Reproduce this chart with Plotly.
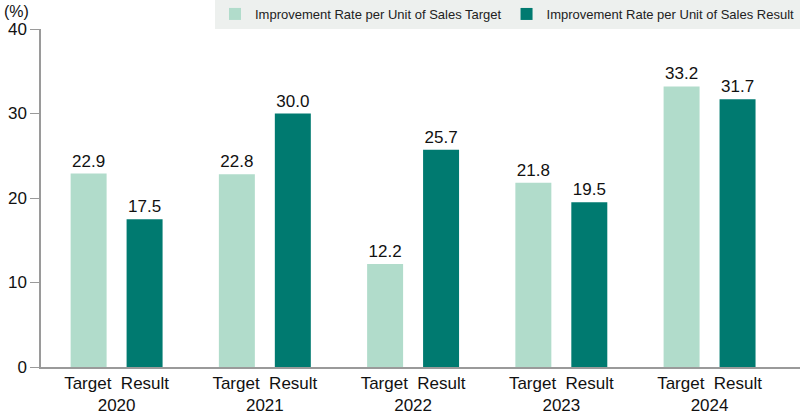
import plotly.graph_objects as go

years = ['2020', '2021', '2022', '2023', '2024']
target = [22.9, 22.8, 12.2, 21.8, 33.2]
result = [17.5, 30.0, 25.7, 19.5, 31.7]
tick_labels = ['Target  Result<br>' + y for y in years]

light_green = '#b1dccb'
dark_green = '#007a70'
axis_gray = '#9a9a9a'
base_font = 'Liberation Sans, Arial, sans-serif'

fig = go.Figure()

fig.add_trace(go.Bar(
    x=years, y=target,
    name='Improvement Rate per Unit of Sales Target',
    marker=dict(color=light_green, line=dict(width=0)),
    text=[f'{v:.1f}' for v in target],
    textposition='outside',
    textfont=dict(size=17, color='#111111', family=base_font),
    cliponaxis=False,
))

fig.add_trace(go.Bar(
    x=years, y=result,
    name='Improvement Rate per Unit of Sales Result',
    marker=dict(color=dark_green, line=dict(width=0)),
    text=[f'{v:.1f}' for v in result],
    textposition='outside',
    textfont=dict(size=17, color='#111111', family=base_font),
    cliponaxis=False,
))

fig.update_layout(
    width=800, height=416,
    margin=dict(l=41, r=0, t=29, b=49, autoexpand=False),
    paper_bgcolor='white',
    plot_bgcolor='white',
    barmode='group',
    bargap=0.245,
    bargroupgap=0.357,
    font=dict(family=base_font, size=17, color='#111111'),
    legend=dict(
        orientation='h',
        x=1, xanchor='right',
        y=1, yanchor='bottom',
        bgcolor='#edf0ee',
        font=dict(family=base_font, size=13, color='#222222'),
        itemwidth=30,
        tracegroupgap=0,
    ),
)

fig.update_xaxes(
    type='category',
    range=[-0.51, 4.61],
    tickvals=years,
    ticktext=tick_labels,
    showline=True, linecolor=axis_gray, linewidth=1.5,
    ticks='', showgrid=False, zeroline=False,
    tickfont=dict(size=17, color='#111111'),
)

fig.update_yaxes(
    range=[0, 40],
    tickvals=[0, 10, 20, 30, 40],
    showline=True, linecolor=axis_gray, linewidth=1.5,
    ticks='outside', ticklen=9, tickcolor=axis_gray, tickwidth=1,
    showgrid=False, zeroline=False,
    tickfont=dict(size=17, color='#111111'),
)

fig.add_annotation(
    text='(%)', xref='paper', yref='paper',
    x=-41 / 759, xanchor='left', xshift=2,
    y=1, yanchor='bottom', yshift=7,
    showarrow=False, font=dict(size=16, color='#111111'),
)

# page body has a default 8px margin, drop it so the figure sits at 0,0
fig.write_html('out.html', config={'displayModeBar': False},
               post_script="document.body.style.margin='0';")
